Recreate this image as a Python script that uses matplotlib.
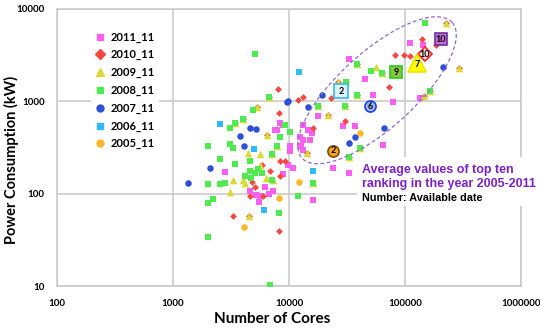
import numpy as np
import matplotlib
matplotlib.use('Agg')
import matplotlib.pyplot as plt
from matplotlib.lines import Line2D
from matplotlib.patches import Rectangle

plt.rcParams['font.family'] = ['Lato', 'DejaVu Sans']

# --- data: number of cores / power (kW) per list ---
cores_2011 = [110000, 143000, 32900, 45200, 53000, 135000, 78800, 29200, 37100, 64600,
              23900, 32900, 10200, 12400, 16100, 9800, 2810, 4610, 5620, 6210,
              7280, 5510, 5200, 6730, 8360, 7570, 7880, 8870, 13200, 14600,
              15800, 12400, 13200, 15200, 12800, 10200, 13200, 10800, 8870, 17800]
power_2011 = [4270, 4060, 2860, 1730, 1160, 1080, 975, 535, 535, 340,
              192, 169, 332, 332, 86, 202, 173, 108, 95, 117,
              108, 82, 97, 100, 577, 484, 484, 550, 550, 484,
              450, 406, 377, 377, 332, 293, 300, 192, 163, 690]

cores_2010 = [226000, 140000, 185000, 82000, 98000, 110000, 38600, 63400, 26400, 72800,
              23000, 12000, 30400, 21700, 30400, 292000, 164000, 14300, 8040, 6730,
              5300, 8200, 4010, 3420, 6460, 5090, 4610, 5970, 3290, 4520,
              8200, 8360, 8360, 38600, 31000, 17800, 32900, 40900, 146000, 16100,
              13200, 5850, 6860, 9240, 4800]
power_2010 = [7040, 4720, 4060, 3160, 3160, 3080, 2520, 2020, 1610, 1420,
              1080, 1030, 880, 705, 606, 2280, 1290, 279, 1350, 1110,
              860, 740, 650, 577, 427, 117, 95, 95, 58, 58,
              39, 156, 228, 1160, 1610, 880, 252, 316, 1130, 520,
              1110, 202, 178, 228, 135]

cores_2009 = [226000, 56200, 38600, 63400, 26400, 31000, 38600, 292000, 164000, 146000,
              30400, 21700, 17800, 40900, 32900, 14300, 16100, 6730, 5300, 4010,
              3420, 6460, 7880, 7130, 4430, 5620, 3100, 3290, 4010, 5620,
              6340, 7280, 4520, 4180]
power_2009 = [7040, 2340, 2520, 2020, 1610, 1610, 1160, 2280, 1290, 1130,
              880, 705, 880, 316, 252, 279, 129, 1110, 860, 650,
              577, 427, 332, 272, 279, 272, 105, 139, 139, 202,
              149, 142, 58, 132]

cores_2008 = [148000, 5090, 38600, 50900, 63400, 31000, 38600, 164000, 17800, 30400,
              40900, 32900, 16100, 12000, 8200, 6860, 2000, 2000, 2210, 2000,
              2540, 2810, 2000, 3100, 3290, 2540, 3420, 3100, 4890, 4010,
              3420, 6730, 4610, 8360, 7880, 7130, 7130, 9240, 4610, 5090,
              5400, 5850, 4180, 4750, 10200]
power_2008 = [7040, 3240, 2520, 2120, 2020, 1610, 1160, 1290, 880, 880,
              316, 252, 129, 95, 62, 10.3, 126, 80, 88, 34,
              126, 132, 332, 348, 316, 240, 212, 520, 800, 650,
              577, 1110, 228, 406, 332, 272, 139, 550, 178, 169,
              187, 169, 156, 149, 461]

cores_2007 = [213000, 19200, 9800, 14600, 65900, 37100, 32900, 9610, 4610, 5200, 3780, 4090, 2080, 1350]
power_2007 = [2340, 1160, 1000, 860, 510, 406, 358, 975, 520, 500, 417, 332, 192, 132]

cores_2006 = [12200, 2540, 4990, 6090, 16100]
power_2006 = [2070, 565, 308, 67, 178]

cores_2005 = [40900, 12200, 8200, 4090]
power_2005 = [450, 135, 90.5, 44]

# averages of top ten, with number of available entries
avg_cores = [204000, 149000, 127000, 83600, 49900, 28100, 23900]
avg_power = [4720, 3240, 2590, 2070, 883, 1285, 293]
avg_counts = ['10', '10', '7', '9', '6', '2', '2']

years = ['2011_11', '2010_11', '2009_11', '2008_11', '2007_11', '2006_11', '2005_11']
cores = [cores_2011, cores_2010, cores_2009, cores_2008, cores_2007, cores_2006, cores_2005]
power = [power_2011, power_2010, power_2009, power_2008, power_2007, power_2006, power_2005]

# styles
colors = ['#F860F2', '#FA4640', '#D9D93A', '#4FEA4F', '#2E4FD8', '#33B8F8', '#FDB827']
markers = ['s', 'D', '^', 's', 'o', 's', 'o']
sizes = [18, 12, 30, 18, 22, 18, 22]
avg_face = ['#C46FD6', '#FFE4E4', '#FFFF00', '#8CC63F', '#9DB8FF', '#DDF3FF', '#F5A623']
avg_edge = ['#7030A0', '#FF2020', '#F0E000', '#22CC22', '#2040E0', '#33B8F8', '#7A4A00']
avg_msize = [8, 7.5, 13, 8.5, 8, 9.5, 8]

fig = plt.figure(figsize=(5.4, 3.3), dpi=100)
ax = fig.add_axes([57 / 540, 1 - 286 / 330, 464 / 540, 277 / 330])

for i in range(len(years)):
    ax.scatter(cores[i], power[i], s=sizes[i], marker=markers[i], color=colors[i],
               linewidths=0, zorder=3)

for i in range(len(years)):
    ax.plot(avg_cores[i], avg_power[i], marker=markers[i], markersize=avg_msize[i],
            markerfacecolor=avg_face[i], markeredgecolor=avg_edge[i], markeredgewidth=1.2,
            linestyle='none', zorder=6)
    ax.text(avg_cores[i], avg_power[i] * (0.97 if markers[i] == '^' else 1.0), avg_counts[i],
            ha='center', va='center', fontsize=6.5, fontweight='bold', color='black', zorder=7)

# dashed ellipse around the averages, drawn in pixel-like log space
cx, cy = np.log10(57400), np.log10(1318)
a, b, th = 101.0, 38.0, np.radians(42)
t = np.linspace(0, 2 * np.pi, 300)
dx = a * np.cos(t) * np.cos(th) - b * np.sin(t) * np.sin(th)
dy = a * np.cos(t) * np.sin(th) + b * np.sin(t) * np.cos(th)
ax.plot(10 ** (cx + dx / 116), 10 ** (cy + dy / 92), linestyle=(0, (3, 2)),
        color='#8E6BC8', linewidth=0.9, zorder=5)

ax.set_xscale('log')
ax.set_yscale('log')
ax.set_xlim(100, 1e6)
ax.set_ylim(10, 1e4)
ax.set_xticks([100, 1000, 10000, 100000, 1000000])
ax.set_xticklabels(['100', '1000', '10000', '100000', '1000000'])
ax.set_yticks([10, 100, 1000, 10000])
ax.set_yticklabels(['10', '100', '1000', '10000'])
ax.minorticks_off()
ax.tick_params(length=0, labelsize=7, pad=9)
for lab in ax.get_xticklabels() + ax.get_yticklabels():
    lab.set_fontweight('bold')
ax.grid(True, color='#C8C8C8', linewidth=1.1, zorder=0)
ax.set_axisbelow(True)
for sp in ax.spines.values():
    sp.set_color('#C8C8C8')
    sp.set_linewidth(1.1)

ax.set_xlabel('Number of Cores', fontsize=11, fontweight='bold')
ax.xaxis.set_label_coords(0.463, -0.095)
ax.set_ylabel('Power Consumption (kW)', fontsize=10.5, fontweight='bold')
ax.yaxis.set_label_coords(-0.082, 0.455)

handles = [Line2D([], [], marker=markers[i], color=colors[i], linestyle='none',
                  markersize=5 if markers[i] != '^' else 6) for i in range(len(years))]
leg = ax.legend(handles, years, loc='upper left', bbox_to_anchor=(0.062, 0.955),
                frameon=True, facecolor='white', edgecolor='none', framealpha=1,
                prop={'weight': 'bold', 'size': 8}, labelspacing=0.6,
                handlelength=0.8, handletextpad=0.5, borderpad=0.4)
leg.set_zorder(8)

# white box behind the note, covering grid and frame
fig.add_artist(Rectangle((357 / 540, 1 - 206 / 330), 183 / 540, 49 / 330,
                         transform=fig.transFigure, facecolor='white', edgecolor='none', zorder=9))
fig.text(362 / 540, 1 - 170 / 330, 'Average values of top ten', family='Liberation Sans',
         fontsize=9, fontweight='bold', color='#7B22C4', va='center', zorder=10)
fig.text(362 / 540, 1 - 184 / 330, 'ranking in the year 2005-2011', family='Liberation Sans',
         fontsize=9, fontweight='bold', color='#7B22C4', va='center', zorder=10)
fig.text(362 / 540, 1 - 198 / 330, 'Number: Available date', family='Liberation Sans',
         fontsize=7.8, fontweight='bold', color='black', va='center', zorder=10)

fig.savefig('out.png', dpi=100)
